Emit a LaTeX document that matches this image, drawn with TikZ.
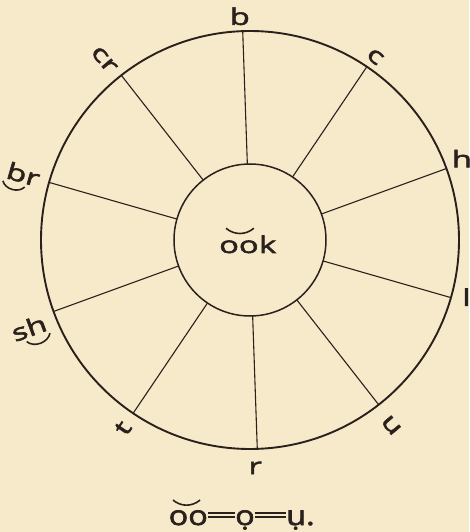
\documentclass[tikz,border=0pt]{standalone}
\usepackage{fontspec}
\setmainfont{Open Sans}
\newfontfamily\wheelfont[FakeStretch=1.42, FakeBold=2.5]{Open Sans}
\newfontfamily\notefont[FakeStretch=1.2, FakeBold=2.5]{Open Sans}
\usetikzlibrary{positioning,calc}
\definecolor{paper}{RGB}{246,234,203}
\definecolor{ink}{RGB}{42,33,28}

\begin{document}
\begin{tikzpicture}[
    x=1pt, y=1pt,
    % --- Styles ---
    rim circle/.style={circle, draw=ink, line width=1.9pt, inner sep=0pt, outer sep=0pt, minimum size=2*\rimr},
    hub circle/.style={circle, draw=ink, line width=1.5pt, inner sep=0pt, outer sep=0pt, minimum size=2*\hubr},
    spoke line/.style={draw=ink, line width=1.1pt},
    % Letters round the rim
    label node/.style={font=\wheelfont\fontsize{23}{27}\selectfont, text=ink, inner sep=3pt},
    word node/.style={font=\wheelfont\fontsize{23}{27}\selectfont, text=ink, inner sep=0pt},
    note node/.style={font=\notefont\fontsize{27}{32}\selectfont, text=ink, inner sep=0pt, anchor=base west},
    % Breves and ties
    mark line/.style={draw=ink, line width=1.6pt},
    equal line/.style={draw=ink, line width=1.5pt, double=paper, double distance=2.2pt}
]

%================CONFIGURATION================
% \rimr: outer radius, \hubr: inner radius
\def\rimr{209pt}
\def\hubr{76pt}
%=============================================

\useasboundingbox[fill=paper] (-250,-292) rectangle (219,240);

% --- 1. Circles ---
\node[rim circle] (rim) at (0,0) {};
\node[hub circle] (hub) at (0,0) {};

% --- 2. Spokes ---
\foreach \a in {92,56,...,-232} {
    \draw[spoke line] (hub.\a) -- (rim.\a);
}

% --- 3. Letters (angle/radius/rotation/text) ---
\foreach \ang/\rad/\rot/\txt in {92.6/224/0/b, 55.7/222/-40/c, 21/227/0/h,
    -14.8/224/0/l, -52.7/233/130/n, -88.7/228/0/r, -124/227/56/t,
    201.7/238/20/sh, 163.8/236/-16/br, 129/232/-50/cr} {
    \node[label node, rotate=\rot] (lab-\txt) at (\ang:\rad) {\txt};
}

% ties under the digraphs
\draw[mark line] ($(lab-br.south west)!0.05!(lab-br.south east)$)
    to[bend right=60] ($(lab-br.south west)!0.62!(lab-br.south east)$);
\draw[mark line] ($(lab-sh.south west)!0.34!(lab-sh.south east)$)
    to[bend right=60] ($(lab-sh.south west)!0.93!(lab-sh.south east)$);

% --- 4. Word in the hub ---
\node[word node, anchor=base west] (oo) at (-31,-13) {oo};
\node[word node, base right=0pt of oo] (k) {k};
\draw[mark line] ([xshift=7pt,yshift=12pt]oo.north west)
    to[bend right=40] ([xshift=-5pt,yshift=12pt]oo.north east);

% --- 5. Note below ---
\node[note node] (eq-oo) at (-81.5,-285) {oo};
\node[note node] (eq-o) at (-15,-285) {ọ};
\node[note node] (eq-u) at (36,-285) {ụ.};
\draw[mark line] ([xshift=4.5pt,yshift=10pt]eq-oo.north west)
    to[bend right=40] ([xshift=-8pt,yshift=10pt]eq-oo.north east);
\draw[equal line] ([yshift=10pt]eq-oo.base east) -- ([yshift=10pt]eq-o.base west);
\draw[equal line] ([yshift=10pt]eq-o.base east) -- ([yshift=10pt]eq-u.base west);

\end{tikzpicture}
\end{document}
